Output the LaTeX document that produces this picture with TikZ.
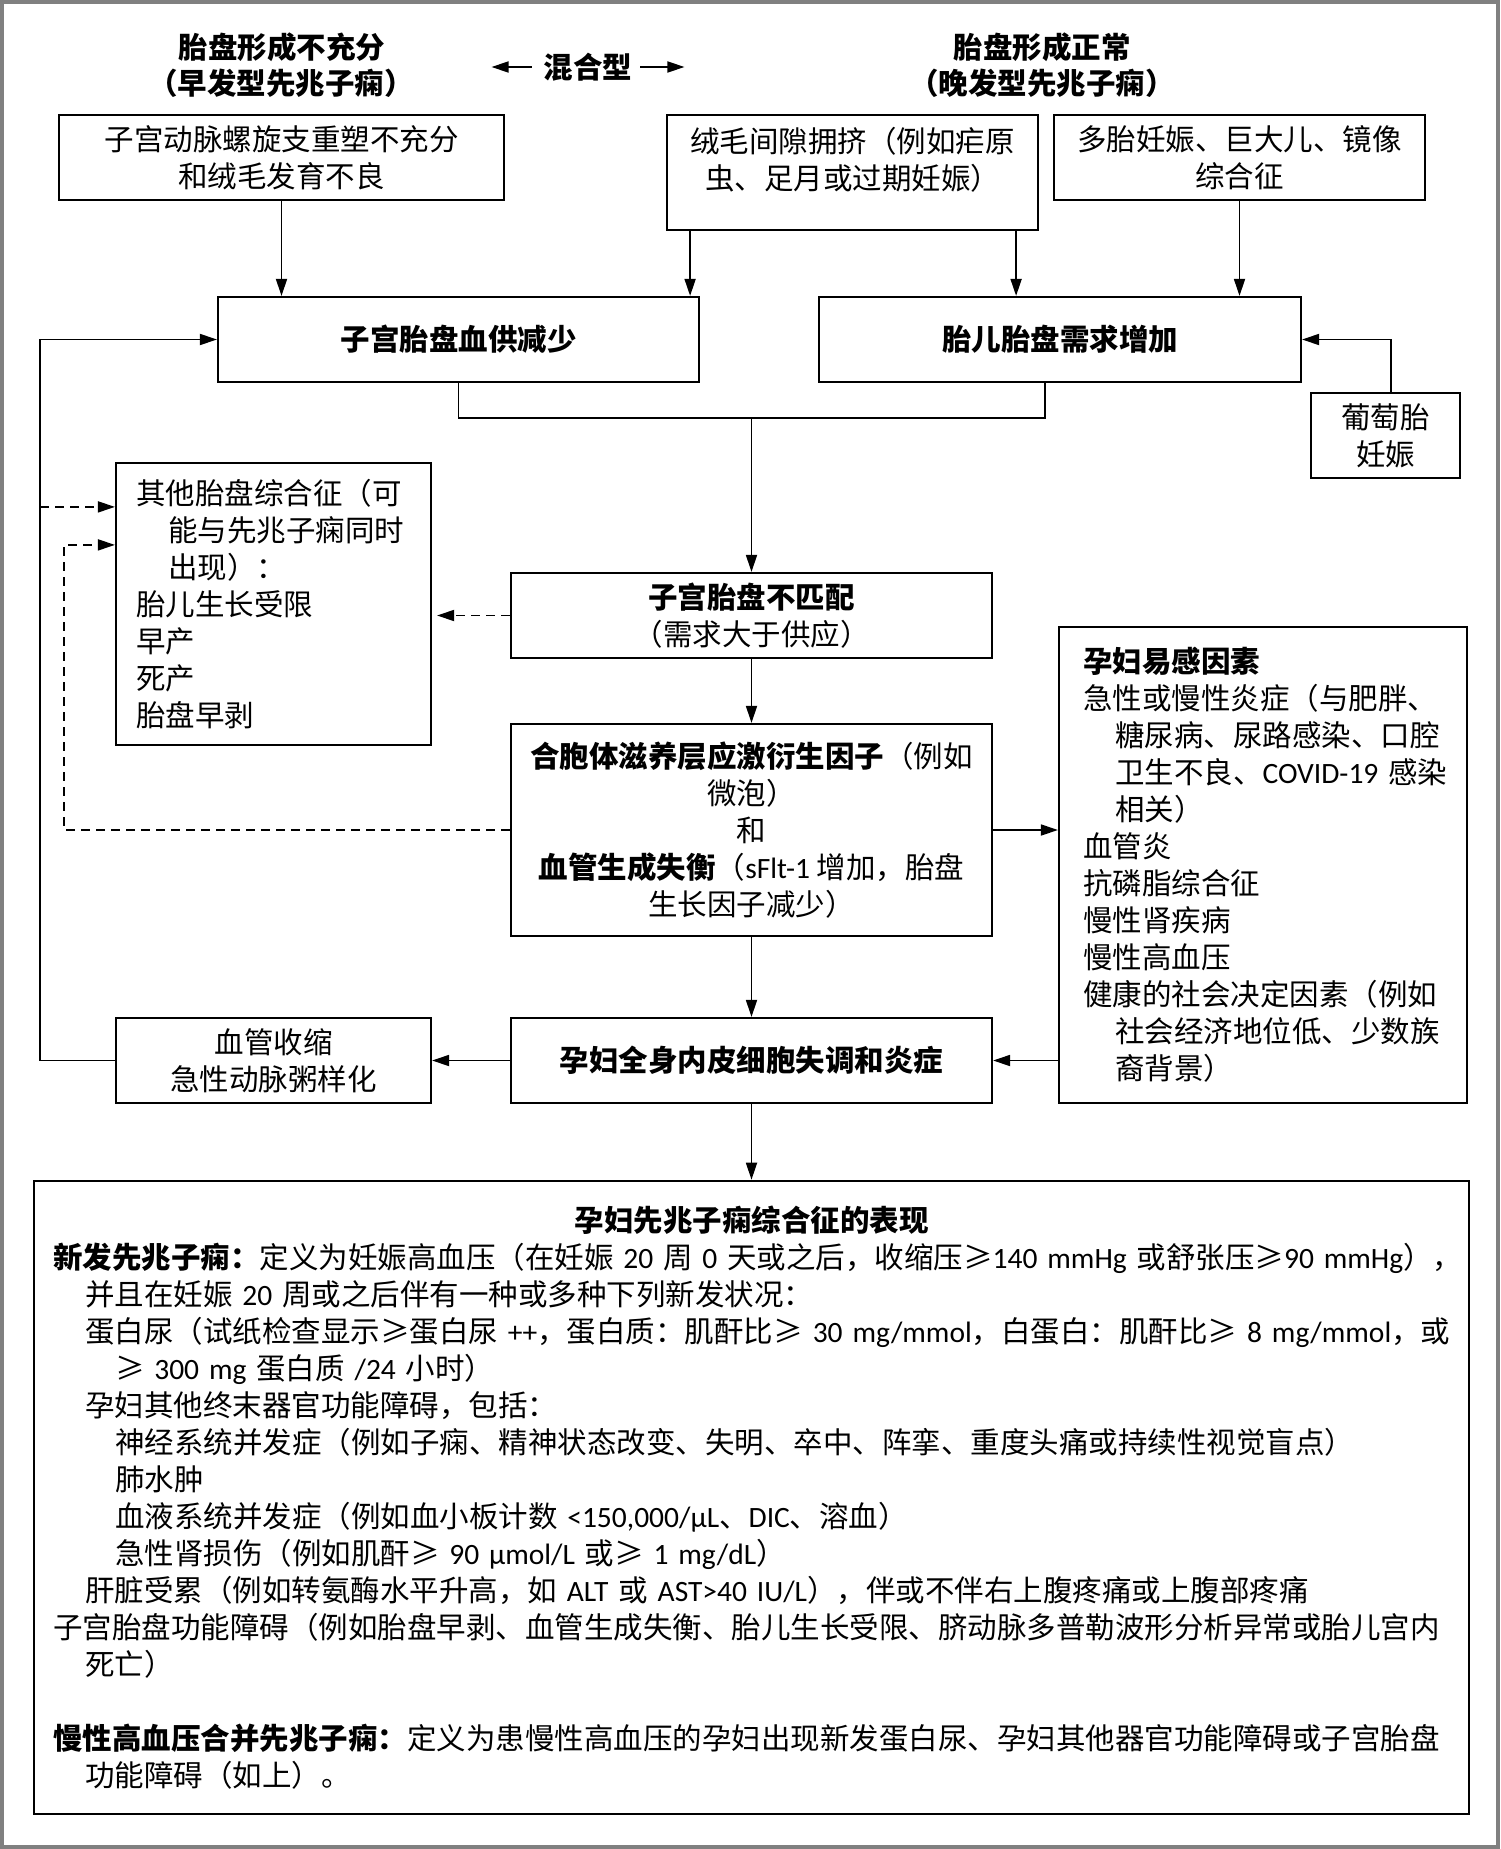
\documentclass[tikz,border=0pt]{standalone}
\usepackage{fontspec}
\setmainfont{Noto Sans CJK SC}
\newfontfamily\latf{Carlito}
\newcommand{\latn}[1]{{\latf #1}}
\newcommand{\ind}{\hspace*{32pt}}
\newcommand{\indd}{\hspace*{62pt}}
\usetikzlibrary{arrows.meta}
\begin{document}
\begin{tikzpicture}[x=1pt,y=-1pt,
  every node/.style={font=\fontsize{29.5}{37}\selectfont, inner sep=0pt},
  box/.style={draw, line width=2.2pt, align=center},
  lbox/.style={draw, line width=2.2pt, align=left},
  txt/.style={align=center},
  ln/.style={line width=1.8pt},
  arr/.style={line width=1.8pt, -{Triangle[length=17pt,width=11pt]}},
  dsh/.style={arr, dash pattern=on 9pt off 6pt},
]
\useasboundingbox (0,0) rectangle (1500,1849);
\draw[black!50, line width=4pt] (2,2) rectangle (1498,1847);

% titles
\node[txt] (tl1) at (282,47) {\textbf{胎盘形成不充分}};
\node[txt] (tl2) at (281,83) {\textbf{（早发型先兆子痫）}};
\node[txt] (mix) at (588,67) {\textbf{混合型}};
\node[txt] (tr1) at (1042,47) {\textbf{胎盘形成正常}};
\node[txt] (tr2) at (1042,83) {\textbf{（晚发型先兆子痫）}};

% boxes
\node[box, minimum width=445pt, minimum height=85pt] (b1) at (281.5,157.5) {子宫动脉螺旋支重塑不充分\\和绒毛发育不良};
\node[box, minimum width=371pt, minimum height=115pt] (b2) at (852.5,172.5) {};
\node[txt] (b2t) at (852.5,160) {绒毛间隙拥挤（例如疟原\\虫、足月或过期妊娠）};
\node[box, minimum width=371pt, minimum height=85pt] (b3) at (1239.5,157.5) {多胎妊娠、巨大儿、镜像\\综合征};
\node[box, minimum width=481pt, minimum height=85pt] (A) at (458.5,339.5) {\textbf{子宫胎盘血供减少}};
\node[box, minimum width=482pt, minimum height=85pt] (B) at (1060,339.5) {\textbf{胎儿胎盘需求增加}};
\node[box, minimum width=149pt, minimum height=85pt] (C) at (1385.5,435.5) {葡萄胎\\妊娠};
\node[box, minimum width=481pt, minimum height=85pt] (D) at (751.5,615.5) {\textbf{子宫胎盘不匹配}\\（需求大于供应）};
\node[box, minimum width=481pt, minimum height=212pt] (E) at (751.5,830) {\textbf{合胞体滋养层应激衍生因子}（例如\\微泡）\\和\\\textbf{血管生成失衡}（\latn{sFlt-1} 增加，胎盘\\生长因子减少）};
\node[box, minimum width=481pt, minimum height=85pt] (F) at (751.5,1060.5) {\textbf{孕妇全身内皮细胞失调和炎症}};
\node[lbox, inner xsep=24pt, text width=360pt, minimum height=476pt] (G) at (1263,865) {\textbf{孕妇易感因素}\\
急性或慢性炎症（与肥胖、\\
\ind 糖尿病、尿路感染、口腔\\
\ind \mbox{卫生不良、\latn{COVID-19} 感染}\\
\ind 相关）\\
血管炎\\
抗磷脂综合征\\
慢性肾疾病\\
慢性高血压\\
健康的社会决定因素（例如\\
\ind 社会经济地位低、少数族\\
\ind 裔背景）};
\node[lbox, inner xsep=20pt, text width=275pt, minimum height=282pt] (H) at (273.5,604) {其他胎盘综合征（可\\
\ind 能与先兆子痫同时\\
\ind 出现）：\\
胎儿生长受限\\
早产\\
死产\\
胎盘早剥};
\node[box, minimum width=315pt, minimum height=85pt] (I) at (273.5,1060.5) {血管收缩\\急性动脉粥样化};
\node[lbox, line width=2.6pt, inner xsep=19pt, text width=1397pt, minimum height=633pt] (K) at (751.5,1497.5) {\hbox to \hsize{\hfil\textbf{孕妇先兆子痫综合征的表现}\hfil}\\
\mbox{\textbf{新发先兆子痫：}定义为妊娠高血压（在妊娠 \latn{20} 周 \latn{0} 天或之后，收缩压≥\latn{140 mmHg} 或舒张压≥\latn{90 mmHg}），}\\
\ind\mbox{并且在妊娠 \latn{20} 周或之后伴有一种或多种下列新发状况：}\\
\ind\mbox{蛋白尿（试纸检查显示≥蛋白尿 \latn{++}，蛋白质：肌酐比≥ \latn{30 mg/mmol}，白蛋白：肌酐比≥ \latn{8 mg/mmol}，或}\\
\indd\mbox{≥ \latn{300 mg} 蛋白质 \latn{/24} 小时）}\\
\ind 孕妇其他终末器官功能障碍，包括：\\
\indd 神经系统并发症（例如子痫、精神状态改变、失明、卒中、阵挛、重度头痛或持续性视觉盲点）\\
\indd 肺水肿\\
\indd\mbox{血液系统并发症（例如血小板计数 \latn{<150,000/µL}、\latn{DIC}、溶血）}\\
\indd\mbox{急性肾损伤（例如肌酐≥ \latn{90 µmol/L} 或≥ \latn{1 mg/dL}）}\\
\ind\mbox{肝脏受累（例如转氨酶水平升高，如 \latn{ALT} 或 \latn{AST>40 IU/L}），伴或不伴右上腹疼痛或上腹部疼痛}\\
子宫胎盘功能障碍（例如胎盘早剥、血管生成失衡、胎儿生长受限、脐动脉多普勒波形分析异常或胎儿宫内\\
\ind 死亡）\\
\mbox{}\\
\textbf{慢性高血压合并先兆子痫：}定义为患慢性高血压的孕妇出现新发蛋白尿、孕妇其他器官功能障碍或子宫胎盘\\
\ind 功能障碍（如上）。};

% connectors
\draw[arr] (b1.south) -- (b1.south |- A.north);
\coordinate (a2) at ([xshift=-10pt]A.north east);
\draw[arr] (b2.south -| a2) -- (a2);
\coordinate (b2o) at ([xshift=-23pt]b2.south east);
\draw[arr] (b2o) -- (b2o |- B.north);
\draw[arr] (b3.south) -- (b3.south |- B.north);
\draw[arr] ([xshift=5.5pt]C.north) |- (B.east);
\coordinate (m) at (751.5,418);
\coordinate (bs) at ([xshift=-15pt]B.south);
\draw[ln] (A.south) -- (A.south |- m) -- (bs |- m) -- (bs);
\draw[arr] (m) -- (D.north);
\draw[arr] (D.south) -- (E.north);
\draw[arr] (E.south) -- (F.north);
\draw[arr] (F.south) -- (K.north);
\draw[arr] (E.east) -- (E.east -| G.west);
\draw[arr] (G.west |- F.east) -- (F.east);
\draw[arr] (F.west) -- (I.east);
\coordinate (fb) at (40,0);
\draw[arr] (I.west) -- (I.west -| fb) -- (fb |- A.west) -- (A.west);
\coordinate (h1) at ([yshift=-45pt]H.north west);
\draw[dsh] (fb |- h1) -- (h1);
\coordinate (dl) at (64,0);
\coordinate (h2) at ([yshift=-83pt]H.north west);
\draw[dsh] (E.west) -- (E.west -| dl) -- (dl |- h2) -- (h2);
\draw[dsh, shorten >=5pt] (D.west) -- (D.west -| H.east);
\draw[arr] ([xshift=-12pt]mix.west) -- ([xshift=-52pt]mix.west);
\draw[arr] ([xshift=8pt]mix.east) -- ([xshift=52pt]mix.east);
\end{tikzpicture}
\end{document}
